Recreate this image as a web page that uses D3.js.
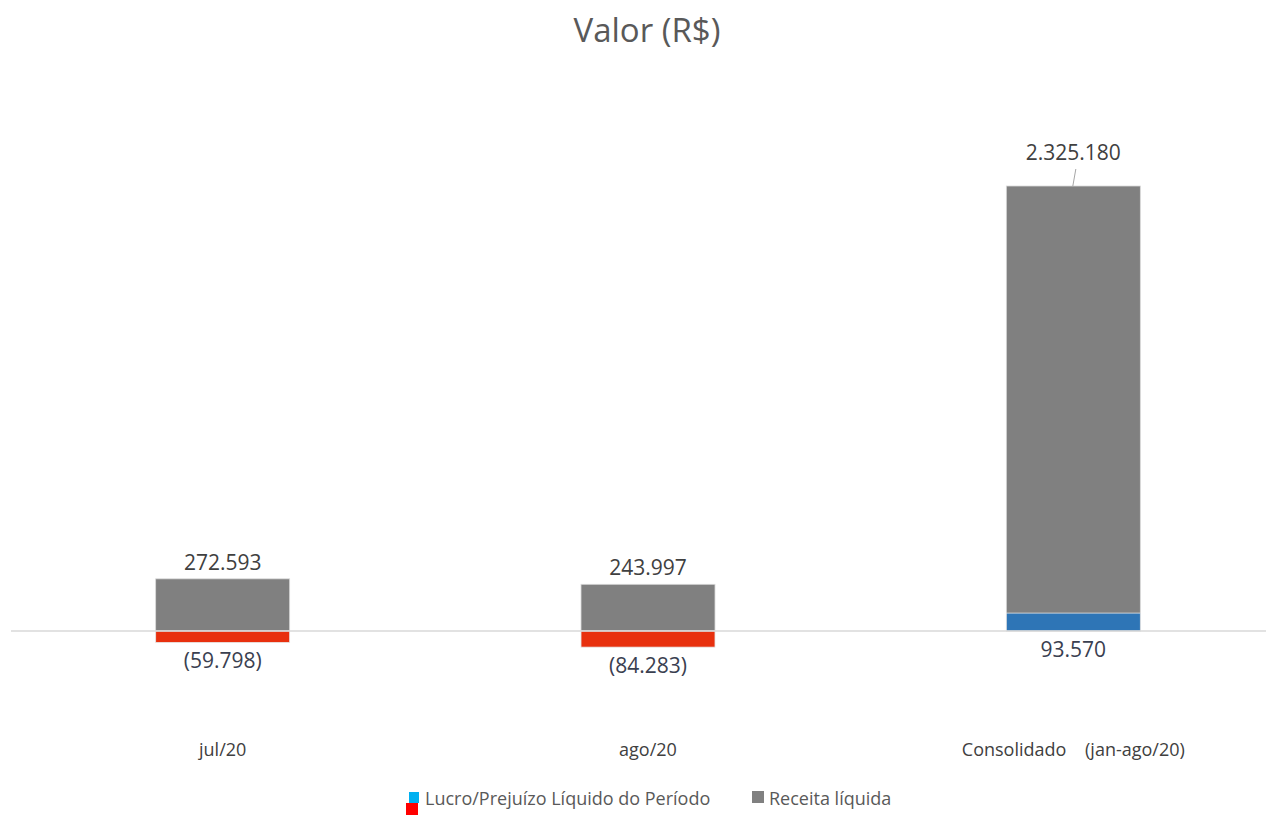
<!DOCTYPE html>
<html>
<head>
<meta charset="utf-8">
<script src="https://cdn.jsdelivr.net/npm/d3@7"></script>
<style>
  body { margin: 0; background: #fff; }
  text { font-family: "Open Sans", "Noto Sans", sans-serif; }
</style>
</head>
<body>
<svg id="chart" width="1266" height="816"></svg>
<script>
const categories = ['jul/20', 'ago/20', 'Consolidado    (jan-ago/20)'];
const receita = [272593, 243997, 2325180];
const lucro = [-59798, -84283, 93570];
const legendLabels = ['Lucro/Prejuízo Líquido do Período', 'Receita líquida'];

const br = d3.formatLocale({ decimal: ',', thousands: '.', grouping: [3], currency: ['R$', ''] });
const fmt = (v) => (v < 0 ? `(${br.format(',')(-v)})` : br.format(',')(v));

const svg = d3.select('#chart');
const W = 1266;

const x = d3.scaleBand()
  .domain(categories)
  .range([10, 1286])
  .paddingInner(0.685)
  .paddingOuter(0.3425);

const y = d3.scaleLinear()
  .domain([0, 2325180])
  .range([631, 186]);

// title
svg.append('text')
  .attr('x', 647).attr('y', 42)
  .attr('text-anchor', 'middle')
  .attr('font-size', 33)
  .attr('fill', '#595959')
  .text('Valor (R$)');

// grey revenue bars
svg.selectAll('.rec').data(categories).enter()
  .append('rect')
  .attr('class', 'rec')
  .attr('x', (d) => x(d))
  .attr('width', x.bandwidth())
  .attr('y', (d, i) => y(receita[i]))
  .attr('height', (d, i) => y(0) - y(receita[i]))
  .attr('fill', '#808080')
  .attr('stroke', '#d9d9d9')
  .attr('stroke-width', 0.8);

// profit / loss bars drawn on top from zero
svg.selectAll('.luc').data(categories).enter()
  .append('rect')
  .attr('class', 'luc')
  .attr('x', (d) => x(d))
  .attr('width', x.bandwidth())
  .attr('y', (d, i) => y(Math.max(0, lucro[i])))
  .attr('height', (d, i) => Math.abs(y(lucro[i]) - y(0)))
  .attr('fill', (d, i) => (lucro[i] < 0 ? '#E8300E' : '#2E75B6'))
  .attr('stroke', '#e6e6e6')
  .attr('stroke-width', 0.8);

// zero line
svg.append('line')
  .attr('x1', 11).attr('x2', W)
  .attr('y1', y(0)).attr('y2', y(0))
  .attr('stroke', '#d9d9d9')
  .attr('stroke-width', 1.5);

// revenue labels (last one lifted with a leader line)
const lift = [0, 0, 17];
svg.selectAll('.recLbl').data(categories).enter()
  .append('text')
  .attr('x', (d) => x(d) + x.bandwidth() / 2)
  .attr('y', (d, i) => y(receita[i]) - 9 - lift[i])
  .attr('text-anchor', 'middle')
  .attr('font-size', 21)
  .attr('fill', '#404040')
  .text((d, i) => fmt(receita[i]));

svg.append('line')
  .attr('x1', x(categories[2]) + x.bandwidth() / 2 + 2.5)
  .attr('x2', x(categories[2]) + x.bandwidth() / 2 - 0.5)
  .attr('y1', y(receita[2]) - 17)
  .attr('y2', y(receita[2]))
  .attr('stroke', '#a6a6a6')
  .attr('stroke-width', 1);

// profit labels below the zero line
svg.selectAll('.lucLbl').data(categories).enter()
  .append('text')
  .attr('x', (d) => x(d) + x.bandwidth() / 2)
  .attr('y', (d, i) => Math.max(y(lucro[i]), y(0)) + 26)
  .attr('text-anchor', 'middle')
  .attr('font-size', 21)
  .attr('fill', '#3a4050')
  .text((d, i) => fmt(lucro[i]));

// category labels
svg.selectAll('.cat').data(categories).enter()
  .append('text')
  .attr('x', (d) => x(d) + x.bandwidth() / 2)
  .attr('y', 756)
  .attr('text-anchor', 'middle')
  .attr('font-size', 18)
  .attr('fill', '#404040')
  .style('white-space', 'pre')
  .text((d) => d);

// legend
const lg = svg.append('g');
lg.append('rect').attr('x', 409).attr('y', 792).attr('width', 10).attr('height', 11).attr('fill', '#00B0F0');
lg.append('rect').attr('x', 406).attr('y', 803).attr('width', 12).attr('height', 12).attr('fill', '#FF0000');
lg.append('text').attr('x', 425).attr('y', 805).attr('font-size', 18).attr('fill', '#595959').text(legendLabels[0]);
lg.append('rect').attr('x', 752).attr('y', 791).attr('width', 12).attr('height', 12).attr('fill', '#808080');
lg.append('text').attr('x', 769).attr('y', 805).attr('font-size', 18).attr('fill', '#595959').text(legendLabels[1]);
</script>
</body>
</html>
